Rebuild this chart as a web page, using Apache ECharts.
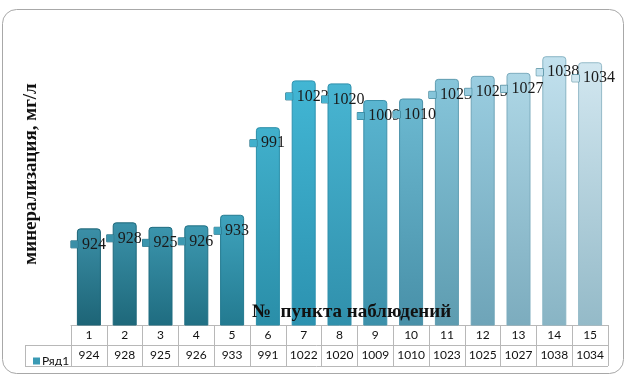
<!DOCTYPE html>
<html>
<head>
<meta charset="utf-8">
<script src="https://cdn.jsdelivr.net/npm/echarts@6/dist/echarts.min.js"></script>
<style>html,body{margin:0;padding:0;background:#fff}#c{width:629px;height:380px}</style>
</head>
<body>
<div id="c"></div>
<script>
// ---- data ----
var categories = ['1','2','3','4','5','6','7','8','9','10','11','12','13','14','15'];
var values = [924, 928, 925, 926, 933, 991, 1022, 1020, 1009, 1010, 1023, 1025, 1027, 1038, 1034];
var seriesName = 'Ряд1';
var yTitle = 'минерализация, мг/л';
var xTitle = '№  пункта наблюдений';

// ---- style ----
var topColors = ['#3b8fa7','#3b92aa','#3b95ad','#3d99b1','#3fa3bd','#41b0cc','#42b6d4','#48b5d2','#5ab5d0','#6cb9d1','#86c5da','#9acde0','#aed7e6','#c2e1ee','#d2e7f0'];
var botColors = ['#1d6476','#1e687a','#1f6c80','#217084','#237a90','#2a8ea8','#2c92b0','#3090ac','#3c90aa','#4890a8','#5e9cb0','#6ea4b8','#7cacbe','#88b4c4','#94bac8'];
var lineCol = '#b8b8b8';
var txtFont = 'Lato';

var chart = echarts.init(document.getElementById('c'), null, {renderer: 'canvas'});

var dataItems = values.map(function (v, i) {
  return {
    value: v,
    itemStyle: {
      color: new echarts.graphic.LinearGradient(0, 0, 0, 1, [
        {offset: 0, color: topColors[i]},
        {offset: 1, color: botColors[i]}
      ]),
      borderColor: botColors[i]
    },
    label: {rich: {m: {backgroundColor: topColors[i]}}}
  };
});

chart.setOption({
  backgroundColor: '#ffffff',
  animation: false,
  grid: {left: 71, right: 21, top: 23, bottom: 55, containLabel: false},
  title: {
    text: xTitle, left: 247, top: 298,
    textStyle: {fontFamily: 'Liberation Serif', fontWeight: 'bold', fontSize: 19, color: '#111'}
  },
  legend: {
    left: 28, top: 350, icon: 'rect', itemWidth: 7, itemHeight: 7, itemGap: 4,
    data: [{name: seriesName, itemStyle: {color: '#3a9ab4'}}],
    textStyle: {fontFamily: txtFont, fontSize: 12, color: '#111', padding: [0, 0, 0, -3]}
  },
  xAxis: [{
    type: 'category', data: categories, position: 'bottom',
    axisLine: {show: true, lineStyle: {color: lineCol, width: 1}},
    axisTick: {show: true, interval: 0, length: 41, lineStyle: {color: lineCol, width: 1}},
    axisLabel: {margin: 4, interval: 0, fontFamily: txtFont, fontSize: 12, color: '#111'}
  }, {
    type: 'category', data: values.map(String), position: 'bottom', offset: 20.5,
    axisLine: {show: false}, axisTick: {show: false},
    axisLabel: {margin: 4, interval: 0, fontFamily: txtFont, fontSize: 12, color: '#111'}
  }],
  yAxis: {
    type: 'value', min: 860, max: 1060,
    axisLine: {show: false}, axisTick: {show: false}, axisLabel: {show: false}, splitLine: {show: false},
    name: yTitle, nameLocation: 'middle', nameRotate: 90, nameGap: 30,
    nameTextStyle: {fontFamily: 'Liberation Serif', fontWeight: 'bold', fontSize: 19, color: '#111'}
  },
  series: [{
    name: seriesName, type: 'bar', xAxisIndex: 0, barWidth: 24,
    data: dataItems,
    itemStyle: {borderWidth: 1, borderRadius: [3, 3, 0, 0]},
    label: {
      show: true, position: [-6, 8], align: 'left', verticalAlign: 'top',
      formatter: function (p) { return '{m|}{v|' + p.value + '}'; },
      rich: {
        m: {width: 7, height: 7, borderColor: '#2a7084', borderWidth: 0.5, verticalAlign: 'middle'},
        v: {fontFamily: 'Liberation Serif', fontSize: 16, color: '#1a1a1a', padding: [0, 0, 0, 4]}
      }
    }
  }],
  graphic: [
    {type: 'rect', shape: {x: 2.5, y: 9.5, width: 621, height: 364, r: 14}, style: {fill: 'none', stroke: '#a8a8a8', lineWidth: 1}, z: 0, silent: true},
    {type: 'line', shape: {x1: 25, y1: 345.5, x2: 608, y2: 345.5}, style: {stroke: lineCol, lineWidth: 1}, z: 10},
    {type: 'line', shape: {x1: 25, y1: 366.5, x2: 608, y2: 366.5}, style: {stroke: lineCol, lineWidth: 1}, z: 10},
    {type: 'line', shape: {x1: 25.5, y1: 345.5, x2: 25.5, y2: 366.5}, style: {stroke: lineCol, lineWidth: 1}, z: 10}
  ]
});
</script>
</body>
</html>
